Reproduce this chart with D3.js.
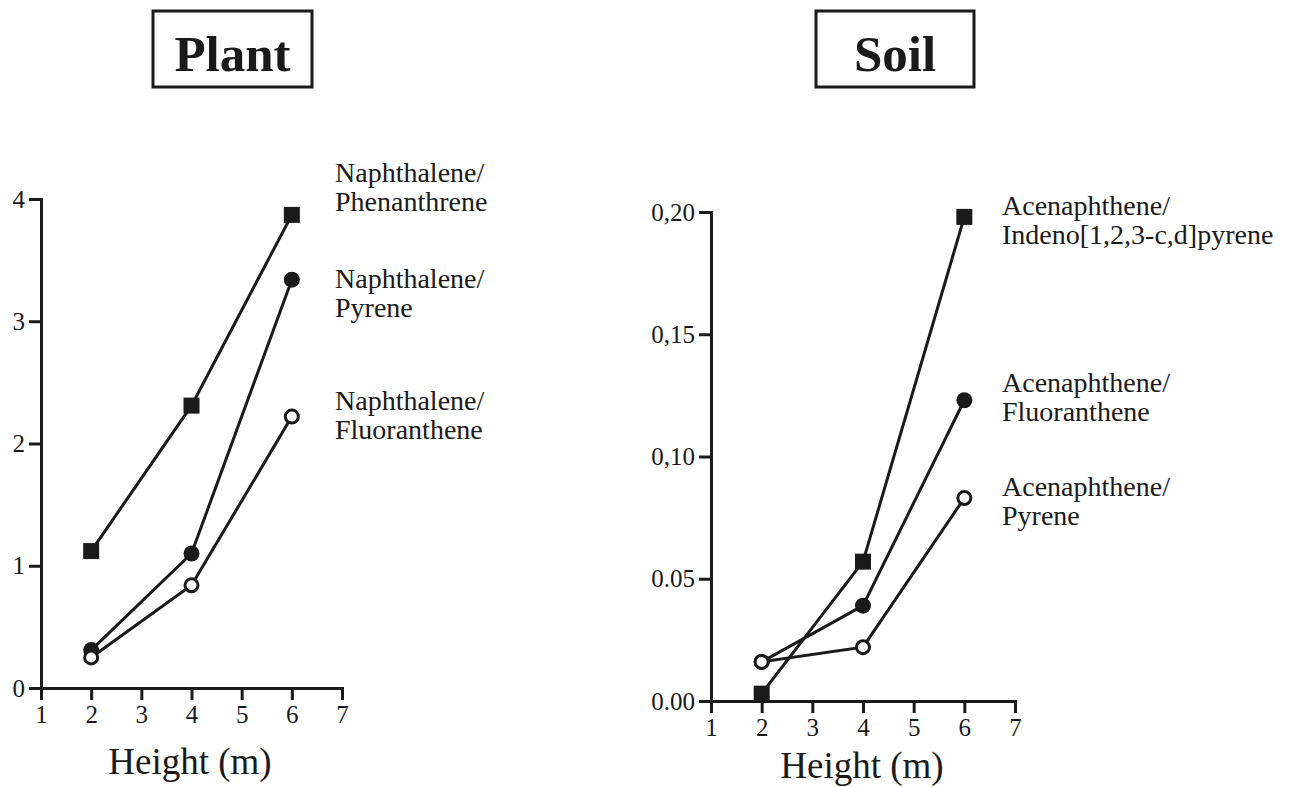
<!DOCTYPE html>
<html>
<head>
<meta charset="utf-8">
<script src="https://cdn.jsdelivr.net/npm/d3@7"></script>
<style>
  body { margin: 0; background: #fff; }
  svg { display: block; }
  text { font-family: "Liberation Serif", "Times New Roman", serif; fill: #1a1a1a; }
  .axis path, .axis line { stroke: #1a1a1a; stroke-width: 3px; }
  .axis text { font-size: 25px; font-family: "Liberation Serif", serif; fill: #1a1a1a; }
</style>
</head>
<body>
<script>
// data
var heights = [2, 4, 6];
var xTicks = [1, 2, 3, 4, 5, 6, 7];

var plantPhenanthrene = [1.12, 2.31, 3.87];
var plantPyrene = [0.31, 1.10, 3.34];
var plantFluoranthene = [0.25, 0.84, 2.22];
var plantYTicks = [0, 1, 2, 3, 4];
var plantYLabels = ["0", "1", "2", "3", "4"];

var soilIndeno = [0.003, 0.057, 0.198];
var soilFluoranthene = [0.016, 0.039, 0.123];
var soilPyrene = [0.016, 0.022, 0.083];
var soilYTicks = [0, 0.05, 0.10, 0.15, 0.20];
var soilYLabels = ["0.00", "0.05", "0,10", "0,15", "0,20"];

var width = 1289, height = 787;

var svg = d3.select("body").append("svg")
    .attr("width", width).attr("height", height);

var panels = [
  {
    title: "Plant", box: {x: 153, y: 11, w: 159, h: 76},
    xRange: [41, 342], yRange: [688, 199], yDomain: [0, 4],
    yTicks: plantYTicks, yLabels: plantYLabels,
    xLabel: {x: 190, y: 774},
    series: [
      {values: plantPhenanthrene, marker: "square", label: ["Naphthalene/", "Phenanthrene"], lx: 335, ly: 182},
      {values: plantPyrene, marker: "dot", label: ["Naphthalene/", "Pyrene"], lx: 335, ly: 288},
      {values: plantFluoranthene, marker: "ring", label: ["Naphthalene/", "Fluoranthene"], lx: 335, ly: 410}
    ]
  },
  {
    title: "Soil", box: {x: 816, y: 11, w: 158, h: 76},
    xRange: [711, 1015], yRange: [701, 212], yDomain: [0, 0.2],
    yTicks: soilYTicks, yLabels: soilYLabels,
    xLabel: {x: 862, y: 778},
    series: [
      {values: soilIndeno, marker: "square", label: ["Acenaphthene/", "Indeno[1,2,3-c,d]pyrene"], lx: 1002, ly: 215},
      {values: soilFluoranthene, marker: "dot", label: ["Acenaphthene/", "Fluoranthene"], lx: 1002, ly: 392},
      {values: soilPyrene, marker: "ring", label: ["Acenaphthene/", "Pyrene"], lx: 1002, ly: 496}
    ]
  }
];

panels.forEach(function(p) {
  var x = d3.scaleLinear().domain([1, 7]).range(p.xRange);
  var y = d3.scaleLinear().domain(p.yDomain).range(p.yRange);
  var g = svg.append("g");

  // title box
  g.append("rect")
      .attr("x", p.box.x).attr("y", p.box.y)
      .attr("width", p.box.w).attr("height", p.box.h)
      .attr("fill", "none").attr("stroke", "#1a1a1a").attr("stroke-width", 3);
  g.append("text")
      .attr("x", p.box.x + p.box.w / 2).attr("y", p.box.y + 60)
      .attr("text-anchor", "middle")
      .style("font-size", "51px").style("font-weight", "bold")
      .text(p.title);

  var xAxis = d3.axisBottom(x).tickValues(xTicks).tickSize(12).tickPadding(5)
      .tickFormat(d3.format("d"));
  g.append("g").attr("class", "axis")
      .attr("transform", "translate(0," + p.yRange[0] + ")")
      .call(xAxis);

  var yAxis = d3.axisLeft(y).tickValues(p.yTicks).tickSize(12).tickPadding(4)
      .tickFormat(function(d, i) { return p.yLabels[i]; });
  g.append("g").attr("class", "axis")
      .attr("transform", "translate(" + p.xRange[0] + ",0)")
      .call(yAxis);

  g.append("text")
      .attr("x", p.xLabel.x).attr("y", p.xLabel.y)
      .attr("text-anchor", "middle")
      .style("font-size", "37px")
      .text("Height (m)");

  var line = d3.line()
      .x(function(d, i) { return x(heights[i]); })
      .y(function(d) { return y(d); });

  p.series.forEach(function(s) {
    g.append("path")
        .attr("d", line(s.values))
        .attr("fill", "none").attr("stroke", "#1a1a1a").attr("stroke-width", 3);
  });

  p.series.forEach(function(s) {
    var pts = g.append("g").selectAll("g").data(s.values).enter().append("g")
        .attr("transform", function(d, i) { return "translate(" + x(heights[i]) + "," + y(d) + ")"; });
    if (s.marker == "square") {
      pts.append("rect").attr("x", -8).attr("y", -8).attr("width", 16).attr("height", 16)
          .attr("fill", "#1a1a1a");
    } else if (s.marker == "dot") {
      pts.append("circle").attr("r", 8).attr("fill", "#1a1a1a");
    } else {
      pts.append("circle").attr("r", 6.5).attr("fill", "#fff")
          .attr("stroke", "#1a1a1a").attr("stroke-width", 3);
    }

    // two-line label, one text per line
    s.label.forEach(function(l, i) {
      g.append("text").attr("x", s.lx).attr("y", s.ly + i * 29)
          .style("font-size", "28px").text(l);
    });
  });
});
</script>
</body>
</html>
